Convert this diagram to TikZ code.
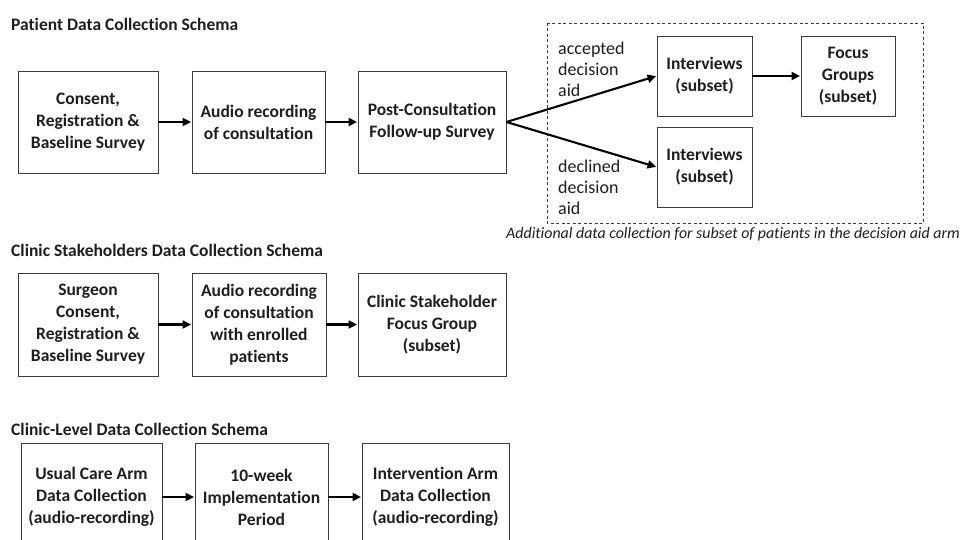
\documentclass[tikz,border=0pt]{standalone}
\usepackage{fontspec}
\setmainfont{Carlito}[Ligatures={NoCommon}]
\usetikzlibrary{arrows.meta}
\definecolor{ink}{HTML}{1E1E1E}
\definecolor{edge}{HTML}{3C3C3C}
\tikzset{
  stagebox/.style={draw=edge, line width=0.9pt, align=center, text=ink,
    inner sep=2pt, font=\fontsize{17.5}{22}\selectfont\bfseries},
  heading/.style={anchor=west, text=ink, inner sep=0pt,
    font=\fontsize{17.5}{21}\selectfont\bfseries},
  branchlabel/.style={anchor=west, align=left, text=ink, inner sep=0pt,
    font=\fontsize{18}{21}\selectfont},
  flow/.style={draw=black, line width=2.1pt,
    -{Triangle[length=8.5pt,width=8pt]}, shorten >=0.5pt},
}
\begin{document}
\begin{tikzpicture}[x=1pt,y=-1pt]
\clip (0,0) rectangle (960,540);
\useasboundingbox (0,0) rectangle (960,540);
\fill[white] (0,0) rectangle (960,540);

% ---- Patient data collection ----
\node[heading] (t1) at (11,24) {Patient Data Collection Schema};
\node[stagebox, minimum width=140pt, minimum height=102pt] (p1) at (88,122)
  {Consent,\\Registration \&\\Baseline Survey};
\node[stagebox, minimum width=133pt, minimum height=102pt] (p2) at (258.5,122)
  {Audio recording\\of consultation};
\node[stagebox, minimum width=148pt, minimum height=102pt] (p3) at (432,122)
  {Post-Consultation\\Follow-up Survey};

\draw[edge, line width=0.8pt, dash pattern=on 3pt off 2.5pt] (547,23) rectangle (923,223);
\node[stagebox, minimum width=95pt, minimum height=80pt] (i1) at (704.5,76)
  {Interviews\\(subset)};
\node[stagebox, minimum width=94pt, minimum height=80pt] (fg) at (848,76)
  {Focus\\Groups\\(subset)};
\node[stagebox, minimum width=95pt, minimum height=80pt] (i2) at (704.5,167)
  {Interviews\\(subset)};
\node[branchlabel] (acc) at (558,69) {accepted\\decision\\aid};
\node[branchlabel] (dec) at (558,187) {declined\\decision\\aid};
\node[anchor=west, text=ink, inner sep=0pt, font=\fontsize{15.9}{19}\selectfont\itshape]
  (cap) at (506,234) {Additional data collection for subset of patients in the decision aid arm};

\draw[flow] (p1) -- (p2);
\draw[flow] (p2) -- (p3);
\draw[flow] (p3.east) -- (i1.west);
\draw[flow] (p3.east) -- (i2.west);
\draw[flow] (i1) -- (fg);

% ---- Clinic stakeholders ----
\node[heading] (t2) at (11,250) {Clinic Stakeholders Data Collection Schema};
\node[stagebox, minimum width=140pt, minimum height=103pt] (s1) at (88,324.5)
  {Surgeon\\Consent,\\Registration \&\\Baseline Survey};
\node[stagebox, minimum width=134pt, minimum height=103pt] (s2) at (259,324.5)
  {Audio recording\\of consultation\\with enrolled\\patients};
\node[stagebox, minimum width=148pt, minimum height=103pt] (s3) at (432,324.5)
  {Clinic Stakeholder\\Focus Group\\(subset)};
\draw[flow] (s1) -- (s2);
\draw[flow] (s2) -- (s3);

% ---- Clinic level ----
\node[heading] (t3) at (11,429) {Clinic-Level Data Collection Schema};
\node[stagebox, minimum width=141pt, minimum height=108pt] (c1) at (91.5,497)
  {Usual Care Arm\\Data Collection\\(audio-recording)};
\node[stagebox, minimum width=133pt, minimum height=108pt] (c2) at (261.5,497)
  {10-week\\Implementation\\Period};
\node[stagebox, minimum width=147pt, minimum height=108pt] (c3) at (435.5,497)
  {Intervention Arm\\Data Collection\\(audio-recording)};
\draw[flow] (c1) -- (c2);
\draw[flow] (c2) -- (c3);
\end{tikzpicture}
\end{document}
